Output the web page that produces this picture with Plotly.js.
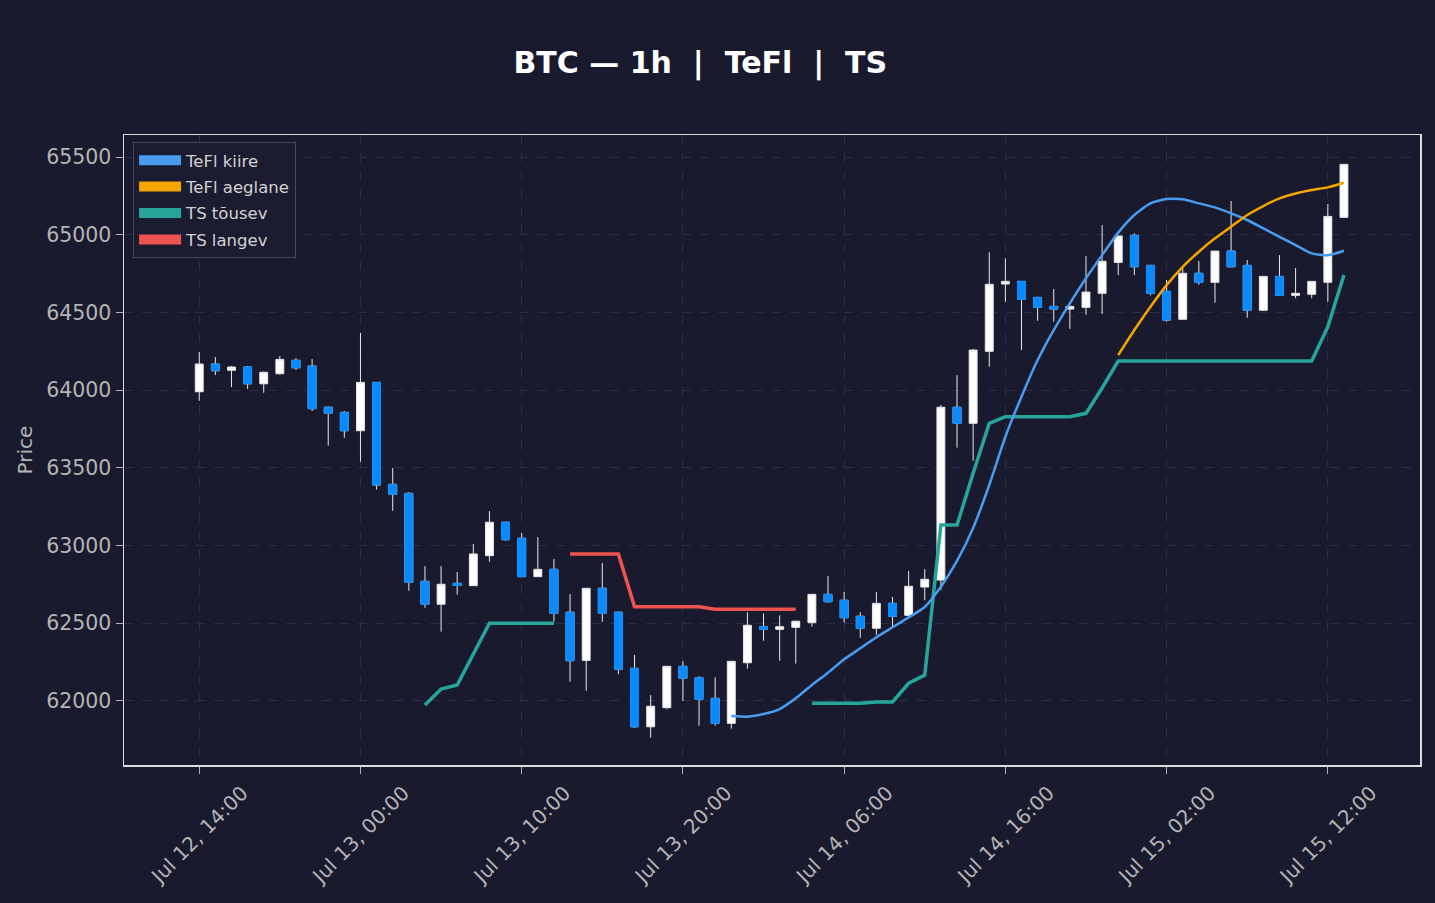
<!DOCTYPE html>
<html>
<head>
<meta charset="utf-8">
<script src="https://cdn.plot.ly/plotly-3.0.1.min.js"></script>
<style>html,body{margin:0;padding:0;background:#1a1a2e;}#chart{width:1435px;height:903px;}</style>
</head>
<body>
<div id="chart"></div>
<script>
// Hourly timestamps (Jul 12 14:00 -> Jul 15 13:00)
const times = [
 "2024-07-12 14:00","2024-07-12 15:00","2024-07-12 16:00","2024-07-12 17:00","2024-07-12 18:00","2024-07-12 19:00",
 "2024-07-12 20:00","2024-07-12 21:00","2024-07-12 22:00","2024-07-12 23:00","2024-07-13 00:00","2024-07-13 01:00",
 "2024-07-13 02:00","2024-07-13 03:00","2024-07-13 04:00","2024-07-13 05:00","2024-07-13 06:00","2024-07-13 07:00",
 "2024-07-13 08:00","2024-07-13 09:00","2024-07-13 10:00","2024-07-13 11:00","2024-07-13 12:00","2024-07-13 13:00",
 "2024-07-13 14:00","2024-07-13 15:00","2024-07-13 16:00","2024-07-13 17:00","2024-07-13 18:00","2024-07-13 19:00",
 "2024-07-13 20:00","2024-07-13 21:00","2024-07-13 22:00","2024-07-13 23:00","2024-07-14 00:00","2024-07-14 01:00",
 "2024-07-14 02:00","2024-07-14 03:00","2024-07-14 04:00","2024-07-14 05:00","2024-07-14 06:00","2024-07-14 07:00",
 "2024-07-14 08:00","2024-07-14 09:00","2024-07-14 10:00","2024-07-14 11:00","2024-07-14 12:00","2024-07-14 13:00",
 "2024-07-14 14:00","2024-07-14 15:00","2024-07-14 16:00","2024-07-14 17:00","2024-07-14 18:00","2024-07-14 19:00",
 "2024-07-14 20:00","2024-07-14 21:00","2024-07-14 22:00","2024-07-14 23:00","2024-07-15 00:00","2024-07-15 01:00",
 "2024-07-15 02:00","2024-07-15 03:00","2024-07-15 04:00","2024-07-15 05:00","2024-07-15 06:00","2024-07-15 07:00",
 "2024-07-15 08:00","2024-07-15 09:00","2024-07-15 10:00","2024-07-15 11:00","2024-07-15 12:00","2024-07-15 13:00"
];

const openP = [63990,64168,64128,64149,64041,64106,64192,64155,63890,63857,63739,64050,
 63394,63336,62770,62622,62757,62742,62935,63150,63047,62800,62847,62571,
 62261,62725,62571,62210,61834,61957,62223,62150,62017,61856,62246,62478,
 62461,62474,62504,62686,62648,62545,62468,62628,62551,62733,62778,63890,
 63787,64250,64683,64700,64597,64539,64522,64533,64623,64822,64996,64803,
 64636,64456,64752,64694,64895,64803,64514,64732,64610,64617,64694,65112];
const highP = [64245,64213,64155,64155,64120,64220,64207,64200,63895,63866,64368,64050,
 63499,63343,62868,62868,62830,63010,63222,63150,63081,63055,62914,62688,
 62725,62888,62571,62296,62038,62223,62257,62160,62152,62255,62571,62564,
 62551,62517,62686,62804,62701,62571,62701,62669,62836,62849,63904,64097,
 64265,64887,64848,64700,64600,64651,64545,64863,65062,64992,65009,64803,
 64709,64784,64831,64895,65217,64837,64735,64869,64786,64702,65198,65455];
const lowP = [63932,64097,64020,64007,63983,64100,64130,63866,63643,63694,63540,63360,
 63224,62710,62600,62446,62684,62740,62896,63031,62800,62800,62510,62124,
 62066,62510,62172,61828,61764,61947,62000,61841,61841,61822,62208,62388,
 62259,62240,62478,62633,62504,62407,62425,62478,62551,62648,62714,63630,
 63546,64151,64569,64260,64447,64440,64395,64485,64490,64741,64741,64610,
 64440,64456,64678,64563,64794,64466,64510,64607,64591,64591,64569,65110];
const closeP = [64168,64125,64149,64041,64115,64198,64144,63881,63851,63739,64050,63390,
 63330,62764,62622,62751,62744,62946,63150,63038,62800,62847,62564,62259,
 62725,62564,62204,61834,61966,62223,62146,62011,61856,62255,62487,62461,
 62478,62513,62686,62639,62536,62468,62628,62545,62738,62783,63890,63787,
 64258,64681,64700,64584,64533,64522,64539,64631,64829,64992,64794,64623,
 64451,64752,64694,64895,64794,64514,64732,64610,64623,64700,65118,65453];

const _ = null;
const teflFast = [_,_,_,_,_,_,_,_,_,_,_,_, _,_,_,_,_,_,_,_,_,_,_,_,
 _,_,_,_,_,_,_,_,_,61903,61899,61916, 61948,62017,62103,62182,62268,62339,62410,62474,62538,62605,62735,62901,
 63113,63390,63700,63958,64194,64387,64559,64720,64869,65014,65127,65202,
 65230,65228,65202,65176,65138,65095,65041,64987,64934,64880,64868,64897];
const teflSlow = [_,_,_,_,_,_,_,_,_,_,_,_, _,_,_,_,_,_,_,_,_,_,_,_,
 _,_,_,_,_,_,_,_,_,_,_,_, _,_,_,_,_,_,_,_,_,_,_,_,
 _,_,_,_,_,_,_,_,_,64226,64387,64537,
 64676,64794,64891,64977,65052,65127,65185,65234,65266,65288,65305,65335];
const tsUp = [_,_,_,_,_,_,_,_,_,_,_,_, _,_,61974,62077,62103,62302,62500,62500,62500,62500,62500,_,
 _,_,_,_,_,_,_,_,_,_,_,_, _,_,61985,61985,61985,61985,61994,61994,62114,62167,63132,63132,
 63465,63787,63829,63829,63829,63829,63829,63851,64014,64188,64188,64188,
 64188,64188,64188,64188,64188,64188,64188,64188,64188,64188,64408,64741];
const tsDown = [_,_,_,_,_,_,_,_,_,_,_,_, _,_,_,_,_,_,_,_,_,_,_,62945,
 62945,62945,62945,62607,62607,62607,62607,62607,62590,62590,62590,62590,
 62590,62590,_,_,_,_,_,_,_,_,_,_, _,_,_,_,_,_,_,_,_,_,_,_, _,_,_,_,_,_,_,_,_,_,_,_];

const seriesNames = ["TeFl kiire","TeFl aeglane","TS tõusev","TS langev"];
const seriesColors = ["#4a9cf0","#f5a500","#26a69a","#ef5350"];

const WICK = "#e8e8e8";
const DOWN = "#0a8aff";

const bodyHigh = openP.map((o,i)=>Math.max(o, closeP[i]));
const bodyLow = openP.map((o,i)=>Math.min(o, closeP[i]));

const traces = [
  {type:"candlestick", x:times, open:openP, high:highP, low:lowP, close:closeP,
   increasing:{line:{color:WICK,width:1}, fillcolor:"#ffffff"},
   decreasing:{line:{color:WICK,width:1}, fillcolor:DOWN},
   showlegend:false, hoverinfo:"skip"},
  {type:"candlestick", x:times, open:openP, high:bodyHigh, low:bodyLow, close:closeP,
   increasing:{line:{color:"rgba(0,0,0,0)",width:0}, fillcolor:"rgba(0,0,0,0)"},
   decreasing:{line:{color:DOWN,width:1}, fillcolor:DOWN},
   showlegend:false, hoverinfo:"skip"},
  {type:"scatter", mode:"lines", x:times, y:tsUp, line:{color:seriesColors[2], width:3.5}, showlegend:false, connectgaps:false},
  {type:"scatter", mode:"lines", x:times, y:tsDown, line:{color:seriesColors[3], width:3.5}, showlegend:false, connectgaps:false},
  {type:"scatter", mode:"lines", x:times, y:teflFast, line:{color:seriesColors[0], width:2.5, shape:"spline", smoothing:0.6}, showlegend:false},
  {type:"scatter", mode:"lines", x:times, y:teflSlow, line:{color:seriesColors[1], width:2.5, shape:"spline", smoothing:0.6}, showlegend:false}
];
seriesNames.forEach((n,k)=>{
  traces.push({type:"scatter", mode:"lines", x:[null], y:[null], name:n, legendgroup:"g"+k,
    line:{color:seriesColors[k], width:13}, showlegend:true, hoverinfo:"skip"});
});

const layout = {
  width:1435, height:903,
  paper_bgcolor:"#1a1a2e", plot_bgcolor:"#1a1a2e",
  font:{family:"DejaVu Sans", color:"#b4b4b4", size:20},
  title:{text:"BTC — 1h  |  TeFl  |  TS", font:{family:"DejaVu Sans", size:30, color:"#ffffff", weight:"bold"},
         x:0.488, xanchor:"center", y:0.931, yanchor:"middle"},
  margin:{l:124, r:15, t:135, b:138},
  showlegend:true,
  legend:{x:0.007, y:0.989, xanchor:"left", yanchor:"top", bgcolor:"#1c1c30", bordercolor:"#45475f", borderwidth:1,
          font:{size:16.5, color:"#d2d2d2"}, tracegroupgap:2, itemwidth:42},
  xaxis:{type:"date", range:["2024-07-12 09:20","2024-07-15 17:43"], rangeslider:{visible:false},
         tick0:"2024-07-12 14:00", dtick:36000000, tickformat:"%b %d, %H:%M", tickangle:-45, ticklabelshift:43,
         showgrid:true, gridcolor:"#2c2c4c", griddash:"dash", gridwidth:1,
         showline:true, linecolor:"#dcdcdc", linewidth:1.5, mirror:true,
         ticks:"outside", ticklen:7, tickcolor:"#b4b4b4", tickfont:{size:20, color:"#b4b4b4"}, zeroline:false},
  yaxis:{range:[61588,65642], dtick:500, tick0:0, tickformat:"d", showgrid:true, gridcolor:"#2c2c4c", griddash:"dash", gridwidth:1,
         showline:true, linecolor:"#dcdcdc", linewidth:1.5, mirror:true,
         ticks:"outside", ticklen:7, tickcolor:"#b4b4b4", tickfont:{size:20.5, color:"#b4b4b4"},
         title:{text:"Price", font:{size:20, color:"#b4b4b4"}, standoff:8}, zeroline:false}
};

Plotly.newPlot("chart", traces, layout, {displayModeBar:false, staticPlot:true});
</script>
</body>
</html>
